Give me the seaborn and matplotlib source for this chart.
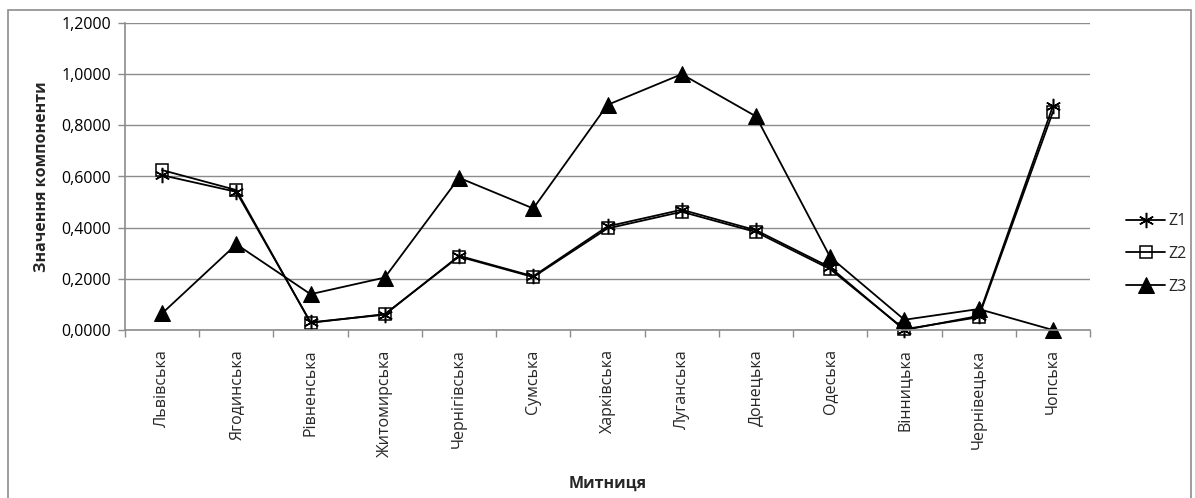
import matplotlib
matplotlib.use("Agg")
import matplotlib.pyplot as plt
from matplotlib.patches import Rectangle
from matplotlib.ticker import FuncFormatter, FixedLocator
import numpy as np
import pandas as pd
import seaborn as sns

# Митниці (categories along the x axis)
customs = ["Львівська", "Ягодинська", "Рівненська", "Житомирська", "Чернігівська",
           "Сумська", "Харківська", "Луганська", "Донецька", "Одеська",
           "Вінницька", "Чернівецька", "Чопська"]

# Component values
z1 = [0.605, 0.540, 0.030, 0.060, 0.290, 0.210, 0.405, 0.470, 0.390, 0.245, 0.000, 0.055, 0.875]
z2 = [0.625, 0.547, 0.028, 0.062, 0.287, 0.207, 0.397, 0.462, 0.383, 0.238, 0.003, 0.050, 0.852]
z3 = [0.065, 0.335, 0.140, 0.205, 0.595, 0.475, 0.880, 1.000, 0.835, 0.285, 0.040, 0.082, 0.000]

y_ticks = [0.0, 0.2, 0.4, 0.6, 0.8, 1.0, 1.2]

sns.set_theme(style="white")
plt.rcParams["font.family"] = ["Open Sans", "DejaVu Sans"]
FS = 11.5

fig = plt.figure(figsize=(11.95, 4.98), dpi=100)
fig.patch.set_facecolor("white")
# outer chart frame
fig.patches.append(Rectangle((8 / 1195, -0.05), (1191 - 8) / 1195, 1 - 10 / 498 + 0.05,
                             transform=fig.transFigure, fill=False,
                             edgecolor="#8c8c8c", linewidth=1.2))

ax = fig.add_axes([125 / 1195, 1 - 330 / 498, (1090 - 125) / 1195, (330 - 23) / 498])

df = pd.DataFrame({"Митниця": customs, "Z1": z1, "Z2": z2, "Z3": z3})

sns.lineplot(data=df, x="Митниця", y="Z1", ax=ax, color="black", linewidth=1.3,
             marker=(6, 2, 0), markersize=11, markeredgewidth=1.1,
             markeredgecolor="black", label="Z1", sort=False, clip_on=False)
sns.lineplot(data=df, x="Митниця", y="Z2", ax=ax, color="black", linewidth=1.3,
             marker="s", markersize=9, markerfacecolor="none", markeredgewidth=1.1,
             markeredgecolor="black", label="Z2", sort=False, clip_on=False)
sns.lineplot(data=df, x="Митниця", y="Z3", ax=ax, color="black", linewidth=1.3,
             marker="^", markersize=11, markerfacecolor="black",
             markeredgecolor="black", label="Z3", sort=False, clip_on=False)

n = len(customs)
ax.set_xlim(-0.5, n - 0.5)
ax.set_ylim(0, 1.2)
ax.set_yticks(y_ticks)
ax.yaxis.set_major_formatter(FuncFormatter(lambda v, p: f"{v:.4f}".replace(".", ",")))
ax.set_xticks(range(n))
ax.set_xticklabels(customs, rotation=90, fontsize=FS)
ax.xaxis.set_minor_locator(FixedLocator(np.arange(-0.5, n, 1.0)))
ax.tick_params(axis="x", which="major", length=0, pad=14)
ax.tick_params(axis="x", which="minor", length=5, color="#8c8c8c", width=1, direction="out")
ax.tick_params(axis="y", which="major", length=5, color="#8c8c8c", width=1,
               direction="out", labelsize=FS, pad=5, labelcolor="black")
ax.xaxis.set_ticks_position("bottom")
ax.yaxis.set_ticks_position("left")

ax.grid(axis="y", color="#8c8c8c", linewidth=1)
ax.grid(axis="x", visible=False)
ax.set_axisbelow(True)
for side in ["top", "right"]:
    ax.spines[side].set_visible(False)
for side in ["left", "bottom"]:
    ax.spines[side].set_color("#8c8c8c")
    ax.spines[side].set_linewidth(1.2)

ax.set_xlabel("Митниця", fontsize=FS, fontweight="bold", labelpad=14)
ax.set_ylabel("Значення компоненти", fontsize=FS, fontweight="bold", labelpad=8)

leg = ax.legend(loc="center left", bbox_to_anchor=(1112 / 1195, 1 - 254 / 498),
                bbox_transform=fig.transFigure, frameon=False, fontsize=FS,
                handlelength=2.4, handletextpad=0.2, labelspacing=1.05)

fig.savefig("out.png", dpi=100, facecolor="white")
